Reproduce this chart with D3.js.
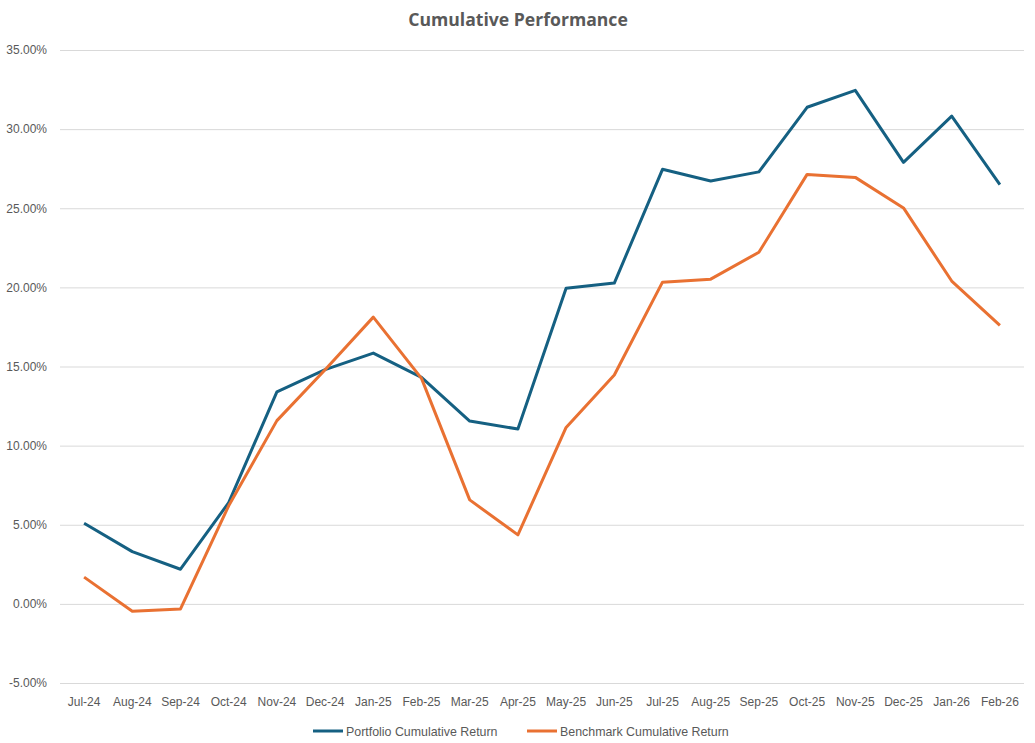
<!DOCTYPE html>
<html><head><meta charset="utf-8">
<script src="https://cdn.jsdelivr.net/npm/d3@7"></script>
<style>body{margin:0;background:#fff}</style>
</head><body>
<script>
const categories = ["Jul-24","Aug-24","Sep-24","Oct-24","Nov-24","Dec-24","Jan-25","Feb-25","Mar-25","Apr-25","May-25","Jun-25","Jul-25","Aug-25","Sep-25","Oct-25","Nov-25","Dec-25","Jan-26","Feb-26"];
const portfolio = [5.09,3.30,2.19,6.40,13.40,14.80,15.85,14.31,11.55,11.05,19.95,20.27,27.46,26.72,27.30,31.38,32.45,27.90,30.82,26.50];
const benchmark = [1.69,-0.46,-0.32,6.20,11.58,14.80,18.12,14.25,6.57,4.36,11.15,14.46,20.33,20.52,22.22,27.14,26.95,25.02,20.40,17.60];
const yTicks = [-5,0,5,10,15,20,25,30,35];
const seriesNames = ["Portfolio Cumulative Return","Benchmark Cumulative Return"];
const colors = ["#156082","#E97132"];

(function(){
const W = 1035, H = 743;
const svg = d3.select("body").append("svg").attr("width", W).attr("height", H);
const mLeft = 60, mRight = 1024, mTop = 50, mBottom = 683;
const x = d3.scaleBand().domain(categories).range([mLeft, mRight]);
const y = d3.scaleLinear().domain([-5, 35]).range([mBottom, mTop]);
const font = "'Liberation Sans', Arial, sans-serif";

svg.append("text").attr("x", 518).attr("y", 26).attr("text-anchor", "middle")
  .attr("font-family", "'Open Sans', sans-serif").attr("font-weight", "bold")
  .attr("font-size", 17.6).attr("fill", "#595959").text("Cumulative Performance");

const yAxis = d3.axisLeft(y).tickValues(yTicks).tickSize(-(mRight - mLeft)).tickFormat(d => d.toFixed(2) + "%");
const gy = svg.append("g").attr("transform", `translate(${mLeft},0)`).call(yAxis);
gy.select(".domain").remove();
gy.selectAll(".tick line").attr("stroke", "#d9d9d9").attr("stroke-width", 1);
gy.selectAll(".tick text").attr("x", -13).attr("font-family", font).attr("font-size", 12).attr("fill", "#595959");

const xAxis = d3.axisBottom(x).tickSize(0);
const gx = svg.append("g").attr("transform", `translate(0,${mBottom})`).call(xAxis);
gx.select(".domain").remove();
gx.selectAll(".tick text").attr("dy", 0).attr("y", 23).attr("font-family", font).attr("font-size", 12).attr("fill", "#595959");

const line = d3.line().x((d, i) => x(categories[i]) + x.bandwidth() / 2).y(d => y(d));
[portfolio, benchmark].forEach((s, k) => {
  svg.append("path").datum(s).attr("d", line).attr("fill", "none")
    .attr("stroke", colors[k]).attr("stroke-width", 3).attr("stroke-linejoin", "round");
});

const legendX = [313, 527];
seriesNames.forEach((n, k) => {
  const g = svg.append("g").attr("transform", `translate(${legendX[k]},731)`);
  g.append("line").attr("x1", 0).attr("x2", 30).attr("y1", 0).attr("y2", 0).attr("stroke", colors[k]).attr("stroke-width", 3);
  g.append("text").attr("x", 33).attr("y", 4.5).attr("font-family", font).attr("font-size", 12.4).attr("fill", "#595959").text(n);
});
})();
</script>
</body></html>
